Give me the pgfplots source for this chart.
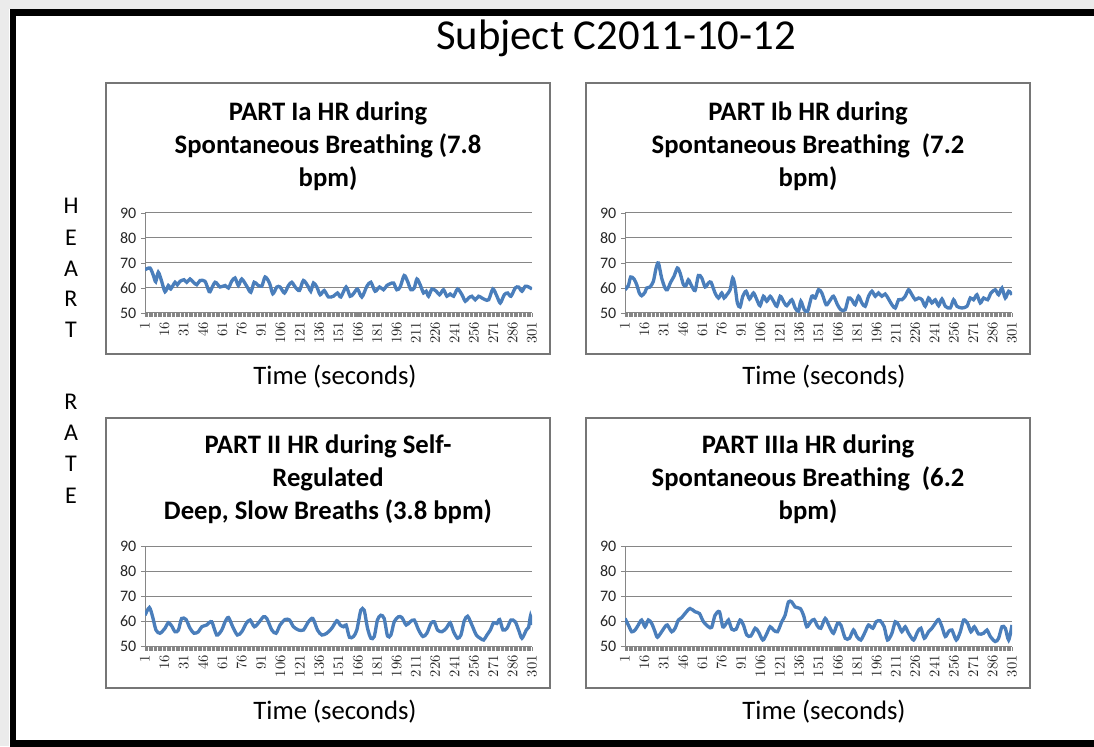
\documentclass[border=0pt]{standalone}
\usepackage{fontspec}
\setmainfont{Carlito}
\usepackage{pgfplots}
\pgfplotsset{compat=1.18}
\definecolor{hrblue}{RGB}{74,126,187}
\definecolor{gridgray}{RGB}{134,134,134}
\definecolor{boxgray}{RGB}{118,118,118}
\pgfplotsset{panel/.style={
  scale only axis, width=290.25pt, height=75pt, anchor=south west,
  xmin=1, xmax=301, ymin=50, ymax=90,
  xtick={1,16,...,301}, minor xtick={1,2,...,301},
  ytick={50,60,70,80,90}, yticklabels={50,60,70,80,90},
  axis x line*=bottom, axis y line*=left,
  axis line style={-, gridgray, line width=0.75pt},
  ymajorgrids, grid style={gridgray, line width=0.75pt},
  tick align=outside, major tick length=3pt, minor tick length=3pt,
  tick style={gridgray, line width=0.6pt},
  minor tick style={gridgray, line width=0.5pt},
  x tick label style={rotate=90, anchor=east, font=\fontsize{11}{12}\selectfont, text=black!85},
  y tick label style={font=\fontsize{12}{13}\selectfont, text=black!85},
},
hr/.style={hrblue, line width=2.5pt, smooth, tension=0.45, no markers}}
\begin{document}
\begin{tikzpicture}
\useasboundingbox (0,0) rectangle (820.5pt,559.5pt);
\begin{scope}[x=0.75pt,y=-0.75pt,yshift=559.5pt]
  \fill[black!8] (0,0) rectangle (1094,9);
  \fill[black!8] (0,0) rectangle (9,746);
  \draw[line width=4.9pt] (1100,12.5) -- (13,12.5) -- (13,743.5) -- (1100,743.5);
  \draw[boxgray, line width=1.1pt] (106,83) rectangle (550,354);
  \draw[boxgray, line width=1.1pt] (586,83) rectangle (1030,354);
  \draw[boxgray, line width=1.1pt] (106,418) rectangle (550,688);
  \draw[boxgray, line width=1.1pt] (586,418) rectangle (1030,688);
  \node[anchor=base, inner sep=0, font=\fontsize{32}{36}\selectfont] at (616,50) {Subject C2011-10-12};
  \begin{scope}[every node/.style={anchor=base, inner sep=0, font=\bfseries\fontsize{20}{24}\selectfont}]
    \node at (328,121) {PART Ia HR during};
    \node at (328,154) {Spontaneous Breathing (7.8};
    \node at (328,187) {bpm)};
    \node at (808,121) {PART Ib HR during};
    \node at (808,154) {Spontaneous Breathing\ \ (7.2};
    \node at (808,187) {bpm)};
    \node at (328,454) {PART II HR during Self-};
    \node at (328,487) {Regulated};
    \node at (328,519) {Deep, Slow Breaths (3.8 bpm)};
    \node at (808,454) {PART IIIa HR during};
    \node at (808,487) {Spontaneous Breathing\ \ (6.2};
    \node at (808,519) {bpm)};
  \end{scope}
  \begin{scope}[every node/.style={anchor=base, inner sep=0, font=\fontsize{20}{24}\selectfont}]
    \node at (335,385) {Time (seconds)};
    \node at (824,385) {Time (seconds)};
    \node at (335,719) {Time (seconds)};
    \node at (824,719) {Time (seconds)};
  \end{scope}
  \begin{scope}[every node/.style={anchor=base, inner sep=0, font=\fontsize{18}{20}\selectfont}]
    \node at (71,214) {H};
    \node at (71,246) {E};
    \node at (71,277) {A};
    \node at (71,307) {R};
    \node at (71,338) {T};
    \node at (71,410) {R};
    \node at (71,441) {A};
    \node at (71,472) {T};
    \node at (71,503) {E};
  \end{scope}
\end{scope}

\begin{axis}[panel, at={(108.75pt,324.75pt)}]
\addplot[hr] coordinates {(1,67.3)(4.9,68)(7.5,65)(9.3,62.5)(11.3,66.3)(13.9,62.7)(16.5,58.5)(19.1,61)(20.9,59.6)(24.3,62.3)(26.1,61.3)(28.2,62.7)(31.3,63.3)(33.3,62.3)(35.9,63.6)(38.5,62.3)(41.1,61.3)(43.7,63)(47.5,62.7)(50.1,59.3)(51.4,58.5)(55.3,62.3)(59.2,60.4)(63.1,61)(65.7,60)(68.2,62.7)(70.8,64)(73.4,61)(76,63.6)(79.9,60.7)(83,58.3)(85.6,62.3)(88.1,61.3)(91.5,60.7)(94.1,64.4)(97.5,62)(100.1,57.7)(103.2,60.4)(105.7,60.4)(109.1,58)(112.2,61)(114.8,62.3)(117.4,60.4)(120.7,59)(123.8,63)(127.7,60.4)(129.5,58.7)(131.6,62)(134.2,60.4)(136.8,57.3)(139.9,59)(143.2,56.4)(147.1,56.7)(150.2,58)(152.8,56.4)(156.9,60.4)(160,56.7)(162.6,57.7)(165.7,59.6)(169.1,56.4)(173,60.7)(176.1,62.3)(179.4,58.7)(182.8,60.4)(185.9,59.3)(188.5,61)(191.1,61.7)(193.7,62)(196.2,59.3)(198.8,60.4)(201.9,65)(204.5,62.7)(207.1,59.3)(209.7,60)(211.8,63.6)(214.3,61.3)(216.9,58)(219,58.7)(220.8,56.7)(223.4,59.6)(226.8,58.7)(229.3,57.3)(232.4,59.3)(235,56.7)(237.6,57.6)(240.2,56.7)(243.3,59.6)(246.7,57.3)(249.3,54.7)(251.8,56)(254.4,56.7)(257,55.3)(259.6,56.7)(262.2,56)(264.8,55.3)(267.4,55.3)(270.7,59.6)(273.8,56.7)(276.4,54)(279.5,57.3)(282.1,58)(284.7,56.7)(288,60)(290.6,60.4)(293.2,58.7)(295.8,60.7)(298.4,60.4)(301,59.6)};
\end{axis}

\begin{axis}[panel, at={(468.75pt,324.75pt)}]
\addplot[hr] coordinates {(1,59.3)(3.6,61)(5.4,64.4)(8,63.6)(10.1,61.3)(12.1,58)(13.9,56.9)(16.5,58.3)(17.8,60)(20.4,60.4)(23,62.7)(25.1,68)(26.9,70)(29.4,64)(32,60)(33.8,59.3)(36.4,62.3)(39,64.7)(41.6,68)(43.7,66)(46.3,61.3)(48.3,61)(50.1,63.3)(52.2,61.3)(55.3,59)(57.9,65)(60.5,64)(63.1,60.4)(65.7,62)(67.7,62.3)(70.8,58)(73.4,56)(76,58)(77.8,56)(79.9,57.3)(82.5,59.3)(84.5,64)(86.3,60.7)(88.1,54)(90.2,52.4)(92.3,56.7)(94.9,58.7)(97.5,55.6)(100.6,58)(103.2,55.3)(105.7,52.9)(108.3,56.7)(110.9,54.7)(113.5,56.7)(116.1,54.7)(118.7,52.7)(121.3,56.7)(123.8,54.7)(126.4,52.9)(130.3,55.3)(132.9,52)(135.5,50.7)(137.3,54.7)(139.9,51.3)(142.5,50.7)(145.8,56.7)(148.4,56)(151,59.3)(153.6,58)(156.9,53.3)(159.5,54.7)(162.6,56.7)(165.7,53.3)(168.3,51.3)(171.7,51.3)(174.3,56)(176.8,55.3)(179.4,53.3)(182,56.7)(184.6,54)(187.2,52.7)(189.8,56.7)(192.4,58.7)(195,56.7)(197.5,58)(200.1,56.7)(202.7,57.6)(205.3,55.6)(207.9,53.3)(210.5,52)(213.1,55.3)(215.6,55.3)(218.2,56.7)(220.8,59.3)(223.4,57.3)(226,55.3)(228.6,56)(231.2,55.3)(233.7,52.7)(236.3,56)(238.9,54)(241.5,55.3)(244.1,52.9)(246.7,55.6)(249.3,52.7)(253.1,52)(255.7,55.3)(258.3,52.7)(262.2,52)(266.1,52.7)(268.7,56)(271.2,55.3)(273.8,57.3)(276.4,54)(279,56)(282.1,55.3)(284.7,58)(288,59.3)(290.6,57.3)(293.2,60)(295.8,56)(298.4,58.7)(301,57.3)};
\end{axis}

\begin{axis}[panel, at={(108.75pt,74.625pt)}]
\addplot[hr] coordinates {(1,62.5)(4.4,65.6)(6.9,61.9)(9.5,56.6)(12.6,55.3)(16.5,57.3)(19.1,59.5)(21.7,58.2)(24.3,55.9)(26.9,56.6)(29.4,61.2)(32.8,60.8)(35.9,57.3)(39,55.3)(42.4,55.9)(45,57.9)(48.8,58.6)(52.7,59.9)(56.6,54.6)(60.5,56.6)(63.1,59.9)(65.7,61.6)(69,57.9)(72.6,54.6)(76,55.9)(79.4,59.2)(82.5,60.6)(85.8,57.9)(89.7,59.9)(92.8,61.9)(95.4,61.2)(99.3,56.6)(102.6,55.3)(105.7,58.6)(109.6,60.8)(113,60.6)(116.1,57.9)(120,56.6)(123.8,56.6)(127.7,59.9)(131.1,61.2)(134.7,56.6)(138.1,54.6)(141.9,55.3)(145.8,57.3)(149.7,60.3)(152.3,58.6)(154.9,57.9)(156.9,58.6)(159.5,53.7)(162.6,54)(165.2,56.6)(168.3,64.5)(170.9,64.5)(173.5,57.3)(176.1,53.3)(178.7,54)(181.2,60.6)(183.8,62.5)(186.4,61.2)(189,54.2)(191.6,54.6)(194.2,59.9)(197.5,61.9)(200.1,61.6)(203.5,58.6)(206.6,59.9)(209.7,60.6)(213.1,56.6)(216.4,54)(219.5,55.3)(222.6,59.2)(225.2,59.9)(227.8,56.6)(231.2,55.9)(234.5,57.3)(237.6,59.5)(240.2,55.9)(243.3,53.3)(245.9,54.6)(248.5,60.3)(251.1,62.1)(254.4,58.6)(257.8,54.6)(260.9,53.3)(263.5,52.6)(266.1,54.6)(268.7,56.6)(271.2,59.5)(273.8,59.2)(275.9,60.8)(278.5,56.6)(281.6,57.3)(284.7,60.6)(288,59.9)(290.6,56.6)(293.2,53.3)(296.6,56.6)(298.4,57.7)(299.8,62.1)(301,58.6)};
\end{axis}

\begin{axis}[panel, at={(468.75pt,74.625pt)}]
\addplot[hr] coordinates {(1,61.2)(3.6,58.6)(6.2,55.9)(8.8,56.6)(11.3,58.6)(13.9,60.6)(16.5,57.9)(19.1,60.6)(21.7,59.2)(24.3,55.9)(26.1,53.7)(29.4,55.9)(32,57.9)(33.8,58.6)(37.2,55.9)(39.8,57.3)(42.4,60.6)(45,61.6)(47.5,63.2)(51.4,65.2)(55.3,63.9)(58.7,63.2)(61.8,59.9)(65.7,57.9)(68.2,57.7)(70.8,62.5)(74.2,63.9)(76.8,57.9)(79.4,59.2)(81.2,60.6)(83.8,56.9)(87.1,56.9)(90.2,60.6)(92.8,58.6)(95.4,54.6)(98.5,54.2)(101.9,57.3)(104.4,55.9)(107.8,52.6)(110.4,54.6)(113.5,57.9)(116.1,56.6)(119.2,55.9)(122.5,59.9)(125.1,62.5)(127.7,67.8)(130.3,67.8)(132.9,65.8)(136.8,65.2)(139.4,62.5)(141.9,57.9)(145,59.9)(147.6,60.8)(150.2,58.2)(152.8,57.3)(156.2,61.2)(159.5,57.9)(162.6,55.3)(165.7,59.2)(168.3,58.6)(171.7,53.3)(175,53.3)(178.1,56.6)(180.7,54)(183.8,52.6)(187.2,55.9)(189.8,58.6)(193.1,57.3)(195.7,59.9)(198.8,60.3)(201.9,57.9)(204.5,52.6)(207.9,55.3)(210.5,59.9)(213.1,58.6)(215.6,55.9)(218.2,57.9)(220.8,55.3)(224.7,52.6)(227.8,55.9)(230.4,57.3)(233,53.3)(236.3,55.9)(238.9,57.3)(241.5,59.2)(244.1,60.8)(246.7,57.9)(249.3,54)(251.8,55.9)(254.4,56.6)(257.8,52.6)(260.9,55.9)(263.5,60.6)(266.6,59.2)(269.2,55.9)(271.8,57.9)(275.1,55)(279,55.3)(281.6,56.6)(284.2,54)(288,52)(290.6,53.3)(293.2,57.9)(295.8,57.3)(298.4,52.6)(301,58.6)};
\end{axis}
\end{tikzpicture}
\end{document}
